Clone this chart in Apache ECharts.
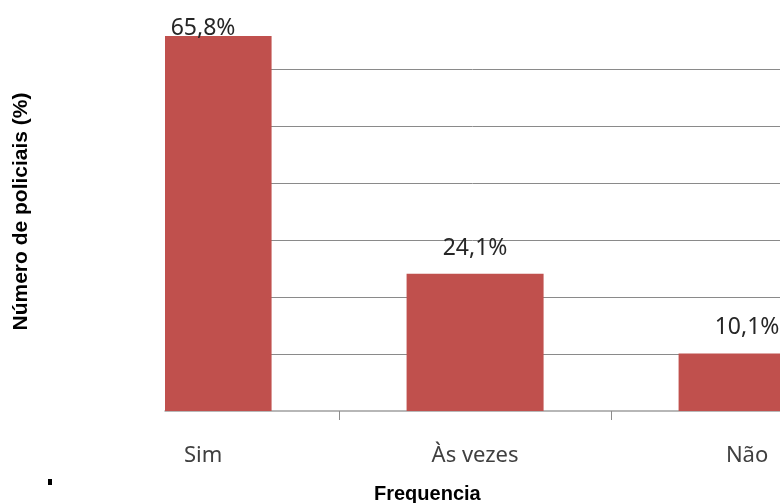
<!DOCTYPE html>
<html>
<head>
<meta charset="utf-8">
<script src="https://cdn.jsdelivr.net/npm/echarts@6/dist/echarts.min.js"></script>
<style>html,body{margin:0;padding:0;background:#fff}#c{width:780px;height:503px}</style>
</head>
<body>
<div id="c"></div>
<script>
const categories = ['Sim', 'Às vezes', 'Não'];
const values = [65.8, 24.1, 10.1];
const yTicks = [0, 10, 20, 30, 40, 50, 60, 70];
const yAxisTitle = 'Número de policiais (%)';
const xAxisTitle = 'Frequencia';

const BAR_W = 137;
const BAR_COLOR = '#C0504D';
const chart = echarts.init(document.getElementById('c'), null, {renderer: 'canvas'});
const data = values.map((v, i) => [i, v]);

function renderBar(params, api) {
  const i = api.value(0), v = api.value(1);
  const top = api.coord([i, v]);
  const base = api.coord([i, 0]);
  const cs = params.coordSys;
  const rect = echarts.graphic.clipRectByRect(
    {x: top[0] - BAR_W / 2, y: top[1], width: BAR_W, height: base[1] - top[1]},
    {x: cs.x, y: cs.y, width: cs.width, height: cs.height}
  );
  const dist = params.dataIndex === 0 ? -4 : 14;
  const children = [];
  if (rect) children.push({type: 'rect', shape: rect, style: {fill: BAR_COLOR}});
  children.push({
    type: 'text',
    style: {
      text: v.toFixed(1).replace('.', ',') + '%',
      x: top[0], y: top[1] - dist,
      align: 'center', verticalAlign: 'bottom',
      fontFamily: 'Noto Sans', fontSize: 23, fill: '#262626'
    }
  });
  return {type: 'group', children};
}

chart.setOption({
  animation: false,
  backgroundColor: '#ffffff',
  title: {
    text: xAxisTitle,
    left: 369, top: 479,
    textStyle: {fontFamily: 'Liberation Sans', fontWeight: 'bold', fontSize: 20, color: '#000'}
  },
  graphic: [{
    type: 'rect', left: 48, top: 479, shape: {width: 4, height: 6}, style: {fill: '#000'}
  }],
  grid: {left: 165, right: 0, top: 12, bottom: 92, containLabel: false},
  xAxis: {
    type: 'value',
    min: -0.14, max: 2.121,
    splitLine: {show: false},
    axisLine: {show: true, lineStyle: {color: '#a0a0a0', width: 1.5}},
    axisTick: {show: true, customValues: [0.5, 1.5], length: 9, lineStyle: {color: '#8c8c8c'}},
    axisLabel: {
      customValues: [0, 1, 2],
      formatter: v => categories[Math.round(v)],
      margin: 34,
      fontFamily: 'Noto Sans', fontSize: 22, color: '#404040'
    }
  },
  yAxis: {
    type: 'value',
    min: yTicks[0], max: yTicks[yTicks.length - 1], interval: 10,
    name: yAxisTitle,
    nameLocation: 'middle',
    nameGap: 133,
    nameRotate: 90,
    nameTextStyle: {fontFamily: 'Liberation Sans', fontWeight: 'bold', fontSize: 21, color: '#000'},
    axisLine: {show: false},
    axisTick: {show: false},
    axisLabel: {show: false},
    splitLine: {show: true, showMinLine: false, showMaxLine: false, lineStyle: {color: '#8a8a8a', width: 1}}
  },
  series: [{
    type: 'custom',
    data: data,
    renderItem: renderBar,
    clip: false,
    encode: {x: 0, y: 1}
  }]
});
</script>
</body>
</html>
